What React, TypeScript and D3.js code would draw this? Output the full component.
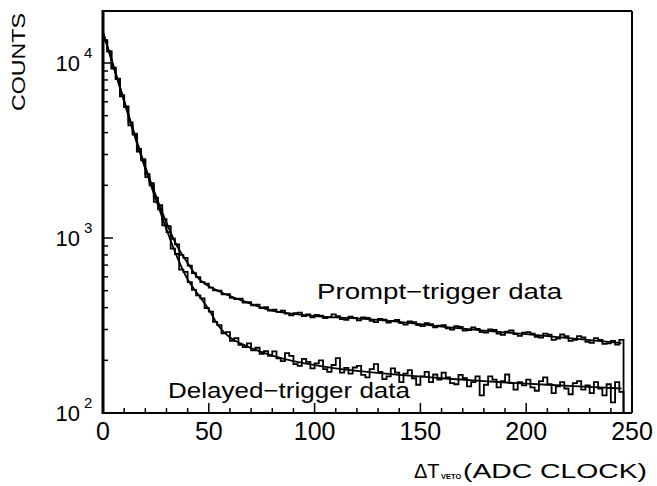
import React from "react";
import * as d3 from "d3";

// Fit curves (x in ADC clock, counts)
const fitX = [0, 5, 10, 15, 20, 25, 30, 35, 40, 45, 50, 55, 60, 65, 70, 80, 90, 100, 110, 120, 140, 160, 180, 200, 220, 245];
const promptFit = [15000, 9600, 6100, 3900, 2550, 1740, 1220, 900, 720, 590, 530, 495, 465, 442, 420, 385, 368, 358, 352, 347, 332, 312, 296, 282, 268, 251];
const delayedFit = [15000, 9500, 6000, 3800, 2480, 1660, 1120, 780, 580, 475, 390, 310, 270, 250, 235, 213, 198, 188, 180, 174, 165, 158, 152, 147, 143, 138];

// Histogram data: bins of width 2 starting at 0
const binWidth = 2;
const promptCounts = [
  13500, 11700, 9400, 8150, 6550, 5650, 4580, 3950, 3230, 2820,
  2320, 2060, 1700, 1540, 1280, 1170, 990, 920, 800, 770,
  695, 630, 598, 560, 548, 520, 502, 500, 476, 478,
  455, 448, 450, 428, 430, 412, 416, 398, 402, 385,
  390, 378, 384, 370, 362, 372, 375, 358, 366, 352,
  364, 360, 348, 352, 366, 358, 344, 341, 355, 350,
  338, 352, 349, 336, 331, 345, 342, 328, 336, 340,
  326, 320, 334, 330, 318, 314, 326, 322, 309, 316,
  318, 305, 300, 314, 310, 296, 298, 308, 302, 290,
  288, 300, 298, 284, 280, 292, 296, 282, 276, 288,
  290, 284, 272, 270, 284, 280, 262, 266, 281, 275,
  258, 262, 275, 270, 255, 252, 268, 262, 248, 250,
  258, 246, 262,
];
const delayedCounts = [
  13400, 11600, 9300, 8100, 6450, 5600, 4400, 3900, 3120, 2780,
  2230, 2000, 1610, 1460, 1180, 1080, 870, 810, 660, 640,
  560, 505, 470, 452, 398, 380, 332, 318, 285, 290,
  258, 268, 245, 238, 250, 228, 236, 218, 226, 212,
  225, 205, 198, 220, 212, 190, 186, 204, 196, 180,
  192, 200, 178, 172, 188, 206, 170, 181, 168, 182,
  186, 165, 160, 178, 190, 172, 156, 162, 180, 170,
  150, 168, 176, 158, 145, 162, 172, 150, 166, 155,
  170, 160, 148, 146, 165, 158, 142, 150, 162, 126,
  145, 162, 155, 140, 152, 166, 148, 136, 150, 144,
  155, 140, 134, 152, 160, 146, 130, 142, 150, 138,
  128, 148, 152, 136, 144, 130, 150, 138, 126, 146,
  115, 150, 132,
];

const xTickLabels = [0, 50, 100, 150, 200, 250];
const yDecades = [2, 3, 4];

const W = 657;
const H = 486;
const left = 103;
const right = 632;
const top = 11;
const bottom = 413;

export default function App() {
  const x = d3.scaleLinear().domain([0, 250]).range([left, right]);
  const yMax = Math.pow(10, 2 + (bottom - top) / 175);
  const y = d3.scaleLog().domain([100, yMax]).range([bottom, top]);

  const stepPath = (counts: number[]) => {
    const pts: [number, number][] = [[0, 100]];
    counts.forEach((c, i) => pts.push([i * binWidth, c]));
    const end = counts.length * binWidth;
    pts.push([end, counts[counts.length - 1]]);
    pts.push([end, 100]);
    return d3
      .line<[number, number]>()
      .x((d) => x(d[0]))
      .y((d) => y(d[1]))
      .curve(d3.curveStepAfter)(pts) as string;
  };

  const fitPath = (vals: number[]) =>
    d3
      .line<number>()
      .x((_, i) => x(fitX[i]))
      .y((d) => y(d))
      .curve(d3.curveMonotoneX)(vals) as string;

  const xMinor = d3.range(10, 250, 10);
  const yMinor: number[] = [];
  for (let e = 2; e <= 4; e++) {
    for (let m = 2; m <= 9; m++) {
      const v = m * Math.pow(10, e);
      if (v < yMax) yMinor.push(v);
    }
  }

  const font = "Arial, 'Liberation Sans', Helvetica, sans-serif";

  return (
    <svg width={W} height={H} style={{ position: "absolute", left: 0, top: 0, background: "#fff" }}>
      <defs>
        <clipPath id="plot">
          <rect x={left} y={top} width={right - left} height={bottom - top} />
        </clipPath>
      </defs>
      <rect x={0} y={0} width={W} height={H} fill="#fff" />

      {/* data */}
      <g clipPath="url(#plot)" fill="none" stroke="#000" strokeLinejoin="miter">
        <path d={stepPath(promptCounts)} strokeWidth={1.8} />
        <path d={stepPath(delayedCounts)} strokeWidth={1.8} />
        <path d={fitPath(promptFit)} strokeWidth={1.8} />
        <path d={fitPath(delayedFit)} strokeWidth={1.8} />
      </g>

      {/* frame */}
      <g stroke="#000" fill="none">
        <line x1={left} x2={left} y1={top - 1} y2={bottom + 1} strokeWidth={3} />
        <line x1={left} x2={right} y1={top} y2={top} strokeWidth={2} />
        <line x1={right} x2={right} y1={top} y2={bottom} strokeWidth={2} />
        <line x1={left} x2={right} y1={bottom} y2={bottom} strokeWidth={2} />
      </g>

      {/* x ticks */}
      <g stroke="#000" strokeWidth={1.5}>
        {xMinor.map((t) => (
          <line key={t} x1={x(t)} x2={x(t)} y1={bottom} y2={bottom - (t % 50 === 0 ? 10 : 5)} />
        ))}
      </g>
      {/* y ticks */}
      <g stroke="#000" strokeWidth={1.5}>
        {yMinor.map((v) => (
          <line key={v} x1={left} x2={left + 5} y1={y(v)} y2={y(v)} />
        ))}
        {yDecades.slice(1).map((e) => (
          <line key={e} x1={left} x2={left + 10} y1={y(Math.pow(10, e))} y2={y(Math.pow(10, e))} />
        ))}
      </g>

      {/* x tick labels */}
      <g fontFamily={font} fontSize={25} textAnchor="middle" fill="#000">
        {xTickLabels.map((t) => (
          <text key={t} x={x(t)} y={440}>
            {t}
          </text>
        ))}
      </g>

      {/* y tick labels */}
      <g fontFamily={font} fill="#000">
        {yDecades.map((e) => {
          const yy = y(Math.pow(10, e));
          return (
            <g key={e}>
              <text x={80} y={yy + 8} fontSize={22} textAnchor="end">
                10
              </text>
              <text x={84} y={yy - 5} fontSize={15}>
                {e}
              </text>
            </g>
          );
        })}
      </g>

      {/* axis titles */}
      <text
        transform="translate(25,62) rotate(-90)"
        fontFamily={font}
        fontSize={19}
        textAnchor="middle"
        textLength={98}
        lengthAdjust="spacingAndGlyphs"
      >
        COUNTS
      </text>
      <text fontFamily={font} fill="#000" y={478} fontSize={20}>
        <tspan x={414}>ΔT</tspan>
        <tspan x={441} y={479} fontSize={7.5} fontWeight="bold">VETO</tspan>
        <tspan x={463} y={478} fontSize={21} textLength={184} lengthAdjust="spacingAndGlyphs">(ADC CLOCK)</tspan>
      </text>

      {/* curve labels */}
      <text x={317} y={299} fontFamily={font} fontSize={22} textLength={245} lengthAdjust="spacingAndGlyphs">
        Prompt−trigger data
      </text>
      <text x={168} y={398} fontFamily={font} fontSize={22} textLength={242} lengthAdjust="spacingAndGlyphs">
        Delayed−trigger data
      </text>
    </svg>
  );
}
